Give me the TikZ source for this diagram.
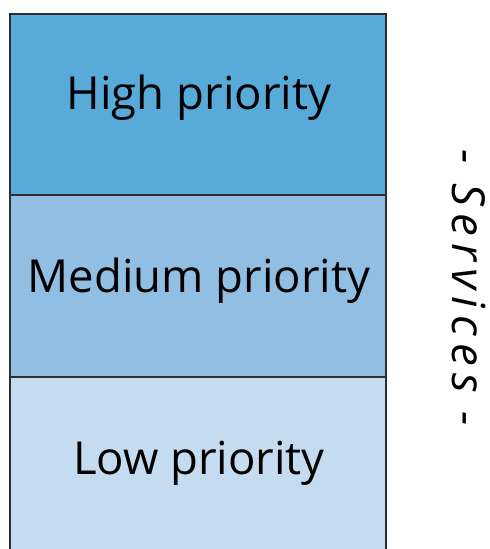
\documentclass[tikz,border=0pt]{standalone}
\usepackage{fontspec}
\setmainfont{Open Sans}
\newfontfamily\servfont[LetterSpace=16]{Open Sans}
\definecolor{chigh}{HTML}{58AAD9}
\definecolor{cmed}{HTML}{90BFE3}
\definecolor{clow}{HTML}{C5DCF0}
\definecolor{edge}{HTML}{2E2E2E}
\tikzset{
  band/.style={draw=edge, line width=1.8pt, minimum width=376pt, anchor=north west, inner sep=0pt, outer sep=0pt},
  lbl/.style={font=\fontsize{45.5}{54}\selectfont, anchor=base, inner sep=0pt},
}
\begin{document}
\begin{tikzpicture}[x=1pt,y=1pt]
\useasboundingbox (0,0) rectangle (490,549);
\clip (0,0) rectangle (490,549);
\node[band, fill=clow, minimum height=182pt] (low) at (10,172) {};
\node[band, fill=cmed, minimum height=182pt] (med) at (10,354) {};
\node[band, fill=chigh, minimum height=181pt] (high) at (10,535) {};
\node[lbl] (thigh) at (199,439) {High priority};
\node[lbl] (tmed) at (199,256) {Medium priority};
\node[lbl] (tlow) at (199,74) {Low priority};
\node[font=\servfont\itshape\fontsize{45.5}{54}\selectfont, rotate=-90, anchor=base, inner sep=0pt] (serv) at (452,261) {- Services -};
\end{tikzpicture}
\end{document}
